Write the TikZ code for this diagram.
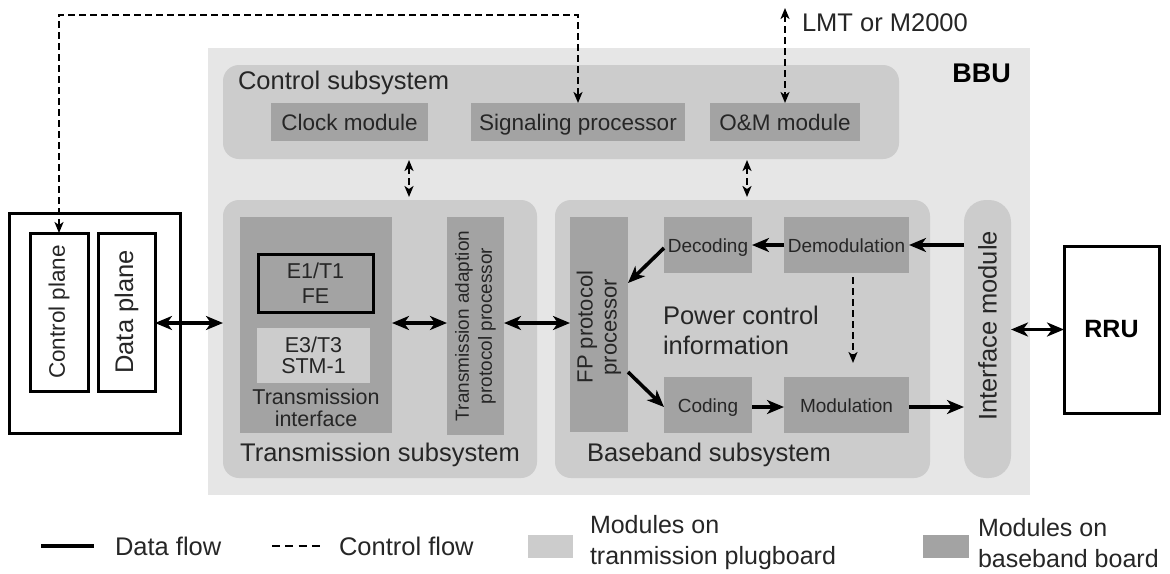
\documentclass[tikz,border=0pt]{standalone}
\usepackage{fontspec}
\setmainfont{Liberation Sans}
\usetikzlibrary{arrows.meta,calc}
\definecolor{bbug}{HTML}{E6E6E6}
\definecolor{subg}{HTML}{CCCCCC}
\definecolor{modg}{HTML}{A3A3A3}
\newcommand{\fbig}{\fontsize{25.5}{30}\selectfont}
\newcommand{\fmid}{\fontsize{22.5}{25}\selectfont}
\newcommand{\fsmall}{\fontsize{19}{23}\selectfont}
\begin{document}
\begin{tikzpicture}[x=1pt,y=-1pt,
  sub/.style={fill=subg, rounded corners=16pt, inner sep=0pt, outer sep=0pt},
  modbox/.style={fill=modg, inner sep=0pt, outer sep=0pt},
  lmod/.style={fill=subg, inner sep=0pt, outer sep=0pt},
  bk/.style={draw=black, line width=3pt, inner sep=0pt, outer sep=0pt},
  txt/.style={inner sep=0pt, outer sep=0pt, font=\fbig, text=black!85},
  mtxt/.style={font=\fmid, text height=19.5pt, text depth=3.5pt, text=black!85},
  stxt/.style={font=\fsmall, text height=17pt, text depth=3pt, text=black!85},
  data/.style={line width=3.6pt, >={Stealth[length=17pt,width=14pt,inset=5pt]}},
  ctrl/.style={line width=2.4pt, dash pattern=on 7pt off 4pt, >={Stealth[length=11pt,width=9pt,inset=3pt]}}
]
\useasboundingbox (0,0) rectangle (1170,573);

% BBU background
\node[fill=bbug, minimum width=822pt, minimum height=447pt, inner sep=0pt] (bbu) at (619,271.5) {};
\node[inner sep=0pt, font=\fontsize{27}{30}\selectfont\bfseries, anchor=east] (bbut) at (1011,73) {BBU};

% Control subsystem
\node[sub, minimum width=676pt, minimum height=94pt] (cs) at (561,112) {};
\node[txt, anchor=west] (cst) at (238,83) {Control subsystem};
\node[modbox, mtxt, minimum width=157pt, minimum height=38pt] (clk) at (349.5,122) {Clock module};
\node[modbox, mtxt, minimum width=214pt, minimum height=38pt] (sig) at (578,122) {Signaling processor};
\node[modbox, mtxt, minimum width=150pt, minimum height=38pt] (om) at (785,122) {O\&M module};

% Transmission subsystem
\node[sub, minimum width=314pt, minimum height=278pt] (ts) at (380,339) {};
\node[modbox, minimum width=152pt, minimum height=216pt] (ti) at (316,325) {};
\node[bk, fill=modg, minimum width=115pt, minimum height=58pt, align=center, font=\fontsize{21.5}{25}\selectfont, text=black!85] (e1) at (315.5,283) {E1/T1\\FE};
\node[lmod, minimum width=113pt, minimum height=55pt, align=center, font=\fontsize{21.5}{21}\selectfont, text=black!85] (e3) at (313.5,355.5) {E3/T3\\STM-1};
\node[inner sep=0pt, align=center, font=\fontsize{21.5}{22}\selectfont, text=black!85] (tit) at (316,407.5) {Transmission\\interface};
\node[modbox, minimum width=57pt, minimum height=218pt] (tap) at (475.5,326) {};
\node[inner sep=0pt, rotate=90, align=center, font=\fsmall, text=black!85] (tapt) at (475.5,326) {Transmission adaption\\protocol processor};
\node[txt] (tst) at (380,455) {Transmission subsystem};

% Baseband subsystem
\node[sub, minimum width=375pt, minimum height=278pt] (bb) at (742.5,339) {};
\node[modbox, minimum width=58pt, minimum height=215pt] (fp) at (599,324.5) {};
\node[inner sep=0pt, rotate=90, align=center, font=\fontsize{22}{24}\selectfont, text=black!85] (fpt) at (599,327) {FP protocol\\processor};
\node[modbox, stxt, minimum width=88pt, minimum height=56pt] (dec) at (708,245) {Decoding};
\node[modbox, stxt, minimum width=125pt, minimum height=56pt] (dem) at (846.5,245) {Demodulation};
\node[modbox, stxt, minimum width=88pt, minimum height=56pt] (cod) at (708,405) {Coding};
\node[modbox, stxt, minimum width=125pt, minimum height=56pt] (mdl) at (846.5,405) {Modulation};
\node[txt, anchor=west, align=left] (pci) at (663,330) {Power control\\information};
\node[txt] (bbt) at (709,455) {Baseband subsystem};

% Interface module
\node[fill=subg, rounded corners=22pt, minimum width=47pt, minimum height=278pt, inner sep=0pt, outer sep=0pt] (im) at (987.5,339) {};
\node[txt, rotate=90] (imt) at (987.5,326) {Interface module};

% RRU
\node[bk, fill=white, minimum width=95pt, minimum height=167pt, font=\fontsize{25}{30}\selectfont\bfseries] (rru) at (1111.5,329.5) {RRU};

% Left box
\node[bk, fill=white, minimum width=171pt, minimum height=220pt] (lb) at (94.5,323) {};
\node[bk, minimum width=58pt, minimum height=158pt] (cp) at (59,312) {};
\node[inner sep=0pt, rotate=90, font=\fmid, text=black!85] (cpt) at (59,312) {Control plane};
\node[bk, minimum width=57pt, minimum height=158pt] (dp) at (126.5,312) {};
\node[inner sep=0pt, rotate=90, font=\fbig, text=black!85] (dpt) at (126.5,312) {Data plane};

% helper coordinates
\coordinate (y323) at (0,323);
\coordinate (top) at (0,15);
\coordinate (v1) at (409,0);
\coordinate (v2) at (747,0);
\coordinate (lmt) at (785,8);

% control flows
\draw[ctrl,<->] (cp.north) -- (cp.north |- top) -- (sig.north |- top) -- (sig.north);
\draw[ctrl,<->] (lmt) -- (om.north);
\node[txt, anchor=west] (lmtt) at (802,23) {LMT or M2000};
\draw[ctrl,<->,shorten <=1pt,shorten >=3pt] (cs.south -| v1) -- (ts.north -| v1);
\draw[ctrl,<->,shorten <=1pt,shorten >=3pt] (cs.south -| v2) -- (bb.north -| v2);
\draw[ctrl,->] ($(dem.south)+(6.5,4)$) -- ($(mdl.north)+(6.5,-14)$);

% data flows
\draw[data,<->] (dp.east |- y323) -- (ts.west |- y323);
\draw[data,<->] (ti.east |- y323) -- (tap.west |- y323);
\draw[data,<->] (tap.east |- y323) -- (fp.west |- y323);
\draw[data,->] (dem.east -| im.west) -- (dem.east);
\draw[data,->] (dem.west) -- (dec.east);
\draw[data,->] ($(dec.west)+(0,3)$) -- ($(fp.east)+(0,-41.5)$);
\draw[data,->] ($(fp.east)+(0,47.5)$) -- ($(cod.west)+(0,2)$);
\draw[data,->] ($(cod.east)+(0,2)$) -- ($(mdl.west)+(0,2)$);
\draw[data,->] ($(mdl.east)+(0,2)$) -- ($(mdl.east -| im.west)+(0,2)$);
\draw[data,<->] (rru.west -| im.east) -- (rru.west);

% legend
\coordinate (l1a) at (41,546);
\coordinate (l1b) at (94,546);
\draw[line width=4pt] (l1a) -- (l1b);
\node[txt, anchor=west] (l1t) at (115,546) {Data flow};
\coordinate (l2a) at (272,546);
\coordinate (l2b) at (320,546);
\draw[line width=2.5pt, dash pattern=on 8pt off 5.33pt] (l2a) -- (l2b);
\node[txt, anchor=west] (l2t) at (339,546) {Control flow};
\node[lmod, minimum width=45pt, minimum height=23pt] (l3) at (550.5,546) {};
\node[txt, anchor=west, align=left, font=\fontsize{25}{31}\selectfont] (l3t) at (590,543) {Modules on\\tranmission plugboard};
\node[modbox, minimum width=46pt, minimum height=23pt] (l4) at (946,546) {};
\node[txt, anchor=west, align=left, font=\fontsize{25}{31}\selectfont] (l4t) at (978,543) {Modules on\\baseband board};
\end{tikzpicture}
\end{document}
